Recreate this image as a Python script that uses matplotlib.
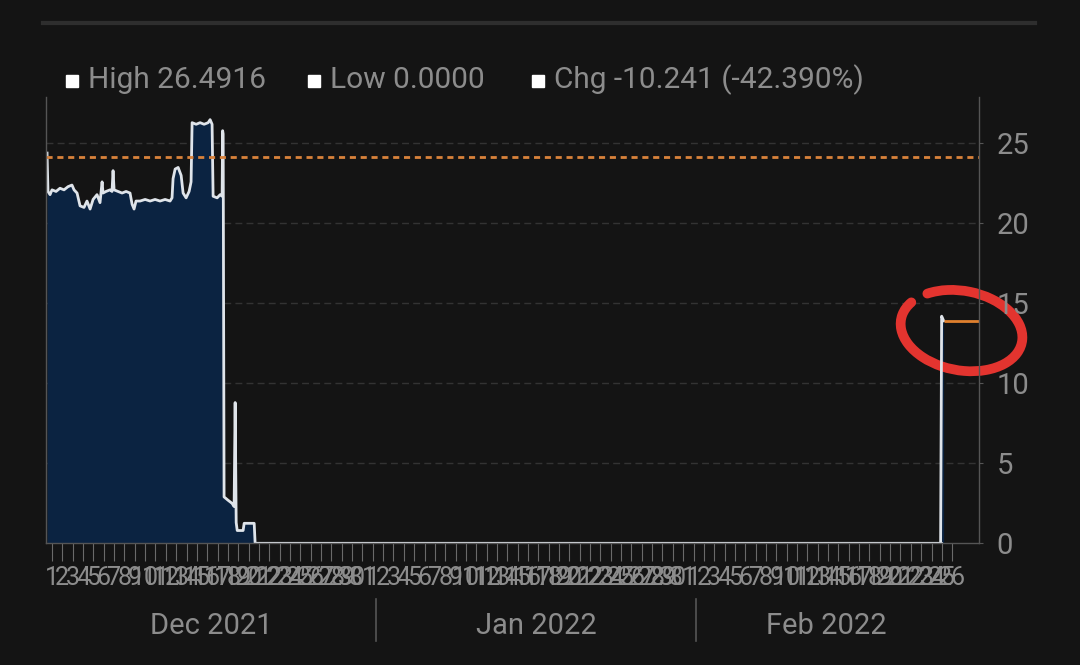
import matplotlib.pyplot as plt
from matplotlib.patches import Rectangle, Arc

# Price path, x in days since Dec 1 2021 (0 = Dec 1)
days = [-0.48, -0.39, -0.19, 0.0, 0.39, 0.77, 1.16, 1.55, 1.93, 2.13, 2.42, 2.71,
        3.09, 3.38, 3.68, 3.97, 4.35, 4.64, 4.84, 4.93, 5.22, 5.61, 5.80, 5.90,
        6.00, 6.38, 6.77, 7.16, 7.54, 7.74, 7.93, 8.12, 8.51, 9.00, 9.48, 9.96,
        10.44, 10.93, 11.41, 11.60, 11.70, 11.90, 12.19, 12.48, 12.67, 12.96,
        13.25, 13.44, 13.54, 13.93, 14.31, 14.70, 15.09, 15.28, 15.47, 15.57,
        15.96, 16.25, 16.44, 16.49, 16.54, 16.63, 17.00, 17.40, 17.60, 17.70,
        17.80, 17.90, 18.47, 18.57, 19.54, 19.63, 85.88, 85.98, 86.17]
prices = [24.4, 22.0, 21.8, 22.1, 22.0, 22.2, 22.1, 22.3, 22.4, 22.1, 21.9, 21.1,
          21.0, 21.4, 20.9, 21.5, 21.8, 21.3, 22.6, 21.9, 22.0, 22.1, 22.0, 23.3,
          22.1, 22.0, 21.9, 22.0, 21.9, 21.2, 20.9, 21.4, 21.4, 21.5, 21.4, 21.5,
          21.4, 21.5, 21.4, 21.6, 22.8, 23.4, 23.5, 23.0, 21.9, 21.6,
          22.0, 22.6, 26.3, 26.2, 26.3, 26.2, 26.3, 26.49, 26.2, 21.7,
          21.6, 21.8, 21.7, 25.8, 25.6, 2.9, 2.7, 2.5, 2.3, 8.8,
          1.3, 0.8, 0.8, 1.25, 1.25, 0.0, 0.0, 14.2, 13.918]

prev_close = 24.159
last_price = 13.918

day_labels = [str(d) for d in range(1, 32)] + [str(d) for d in range(1, 32)] + [str(d) for d in range(1, 27)]
months = ['Dec 2021', 'Jan 2022', 'Feb 2022']
month_centers = [15.4, 46.8, 74.8]
month_breaks = [31.3, 62.2]
legend_items = ['High 26.4916', 'Low 0.0000', 'Chg -10.241 (-42.390%)']

bg = '#141414'
grey = '#8c8c8c'
plt.rcParams['font.family'] = ['Roboto', 'DejaVu Sans']

fig = plt.figure(figsize=(10.8, 6.65), dpi=100, facecolor=bg)
ax = fig.add_axes([0.0426, 0.183, 0.8635, 0.671], facecolor=bg)

ax.fill_between(days, prices, 0, color='#0b2341', linewidth=0)
ax.plot(days, prices, color='#dfe4ea', linewidth=2)
ax.plot([19.63, 85.88], [0, 0], color='#dfe4ea', linewidth=2)
ax.axhline(prev_close, color='#d9823b', linewidth=2, linestyle=(0, (2.2, 1.7)))
ax.hlines(last_price, days[-1], 89.55, color='#e0802e', linewidth=2)

ax.set_xlim(-0.58, 89.55)
ax.set_ylim(0, 27.9)

# Grid
for y in [5, 10, 15, 20, 25]:
    ax.axhline(y, color='#333333', linewidth=1, linestyle=(0, (5, 3)), zorder=0)

ax.yaxis.tick_right()
ax.set_yticks([0, 5, 10, 15, 20, 25])
ax.tick_params(axis='y', colors='#555555', labelcolor=grey, labelsize=21, length=3, pad=10)
ax.set_xticks(range(len(day_labels)))
ax.set_xticklabels(day_labels)
ax.tick_params(axis='x', colors='#6a6a6a', labelcolor=grey, labelsize=18, length=13, pad=3)

ax.spines['top'].set_visible(False)
for side in ['left', 'right', 'bottom']:
    ax.spines[side].set_color('#555555')
    ax.spines[side].set_linewidth(1)

# Month labels and separators below the day ticks
for name, c in zip(months, month_centers):
    ax.text(c, -0.185, name, transform=ax.get_xaxis_transform(), ha='center', va='center',
            color=grey, fontsize=21)
for b in month_breaks:
    ax.plot([b, b], [-0.125, -0.22], transform=ax.get_xaxis_transform(), color='#555555',
            linewidth=1.2, clip_on=False)

# Hand-drawn red loop around the last price
ax.add_patch(Arc((87.9, 13.3), 11.8, 5.0, angle=-5, theta1=165, theta2=150,
                 color='#e3342f', linewidth=7, clip_on=False, capstyle='round'))

# Legend row on top
x_pos = [66, 308, 532]
for item, x in zip(legend_items, x_pos):
    fig.add_artist(Rectangle((x / 1080, 1 - 87 / 665), 12 / 1080, 12 / 665,
                             transform=fig.transFigure, color='white'))
    fig.text((x + 22) / 1080, 1 - 80 / 665, item, color=grey, fontsize=21.5, va='center')

# Thin divider at the top
fig.add_artist(plt.Line2D([43 / 1080, 1035 / 1080], [1 - 23 / 665, 1 - 23 / 665],
                          transform=fig.transFigure, color='#2e2e2e', linewidth=3))

fig.savefig('out.png', dpi=100, facecolor=bg)
